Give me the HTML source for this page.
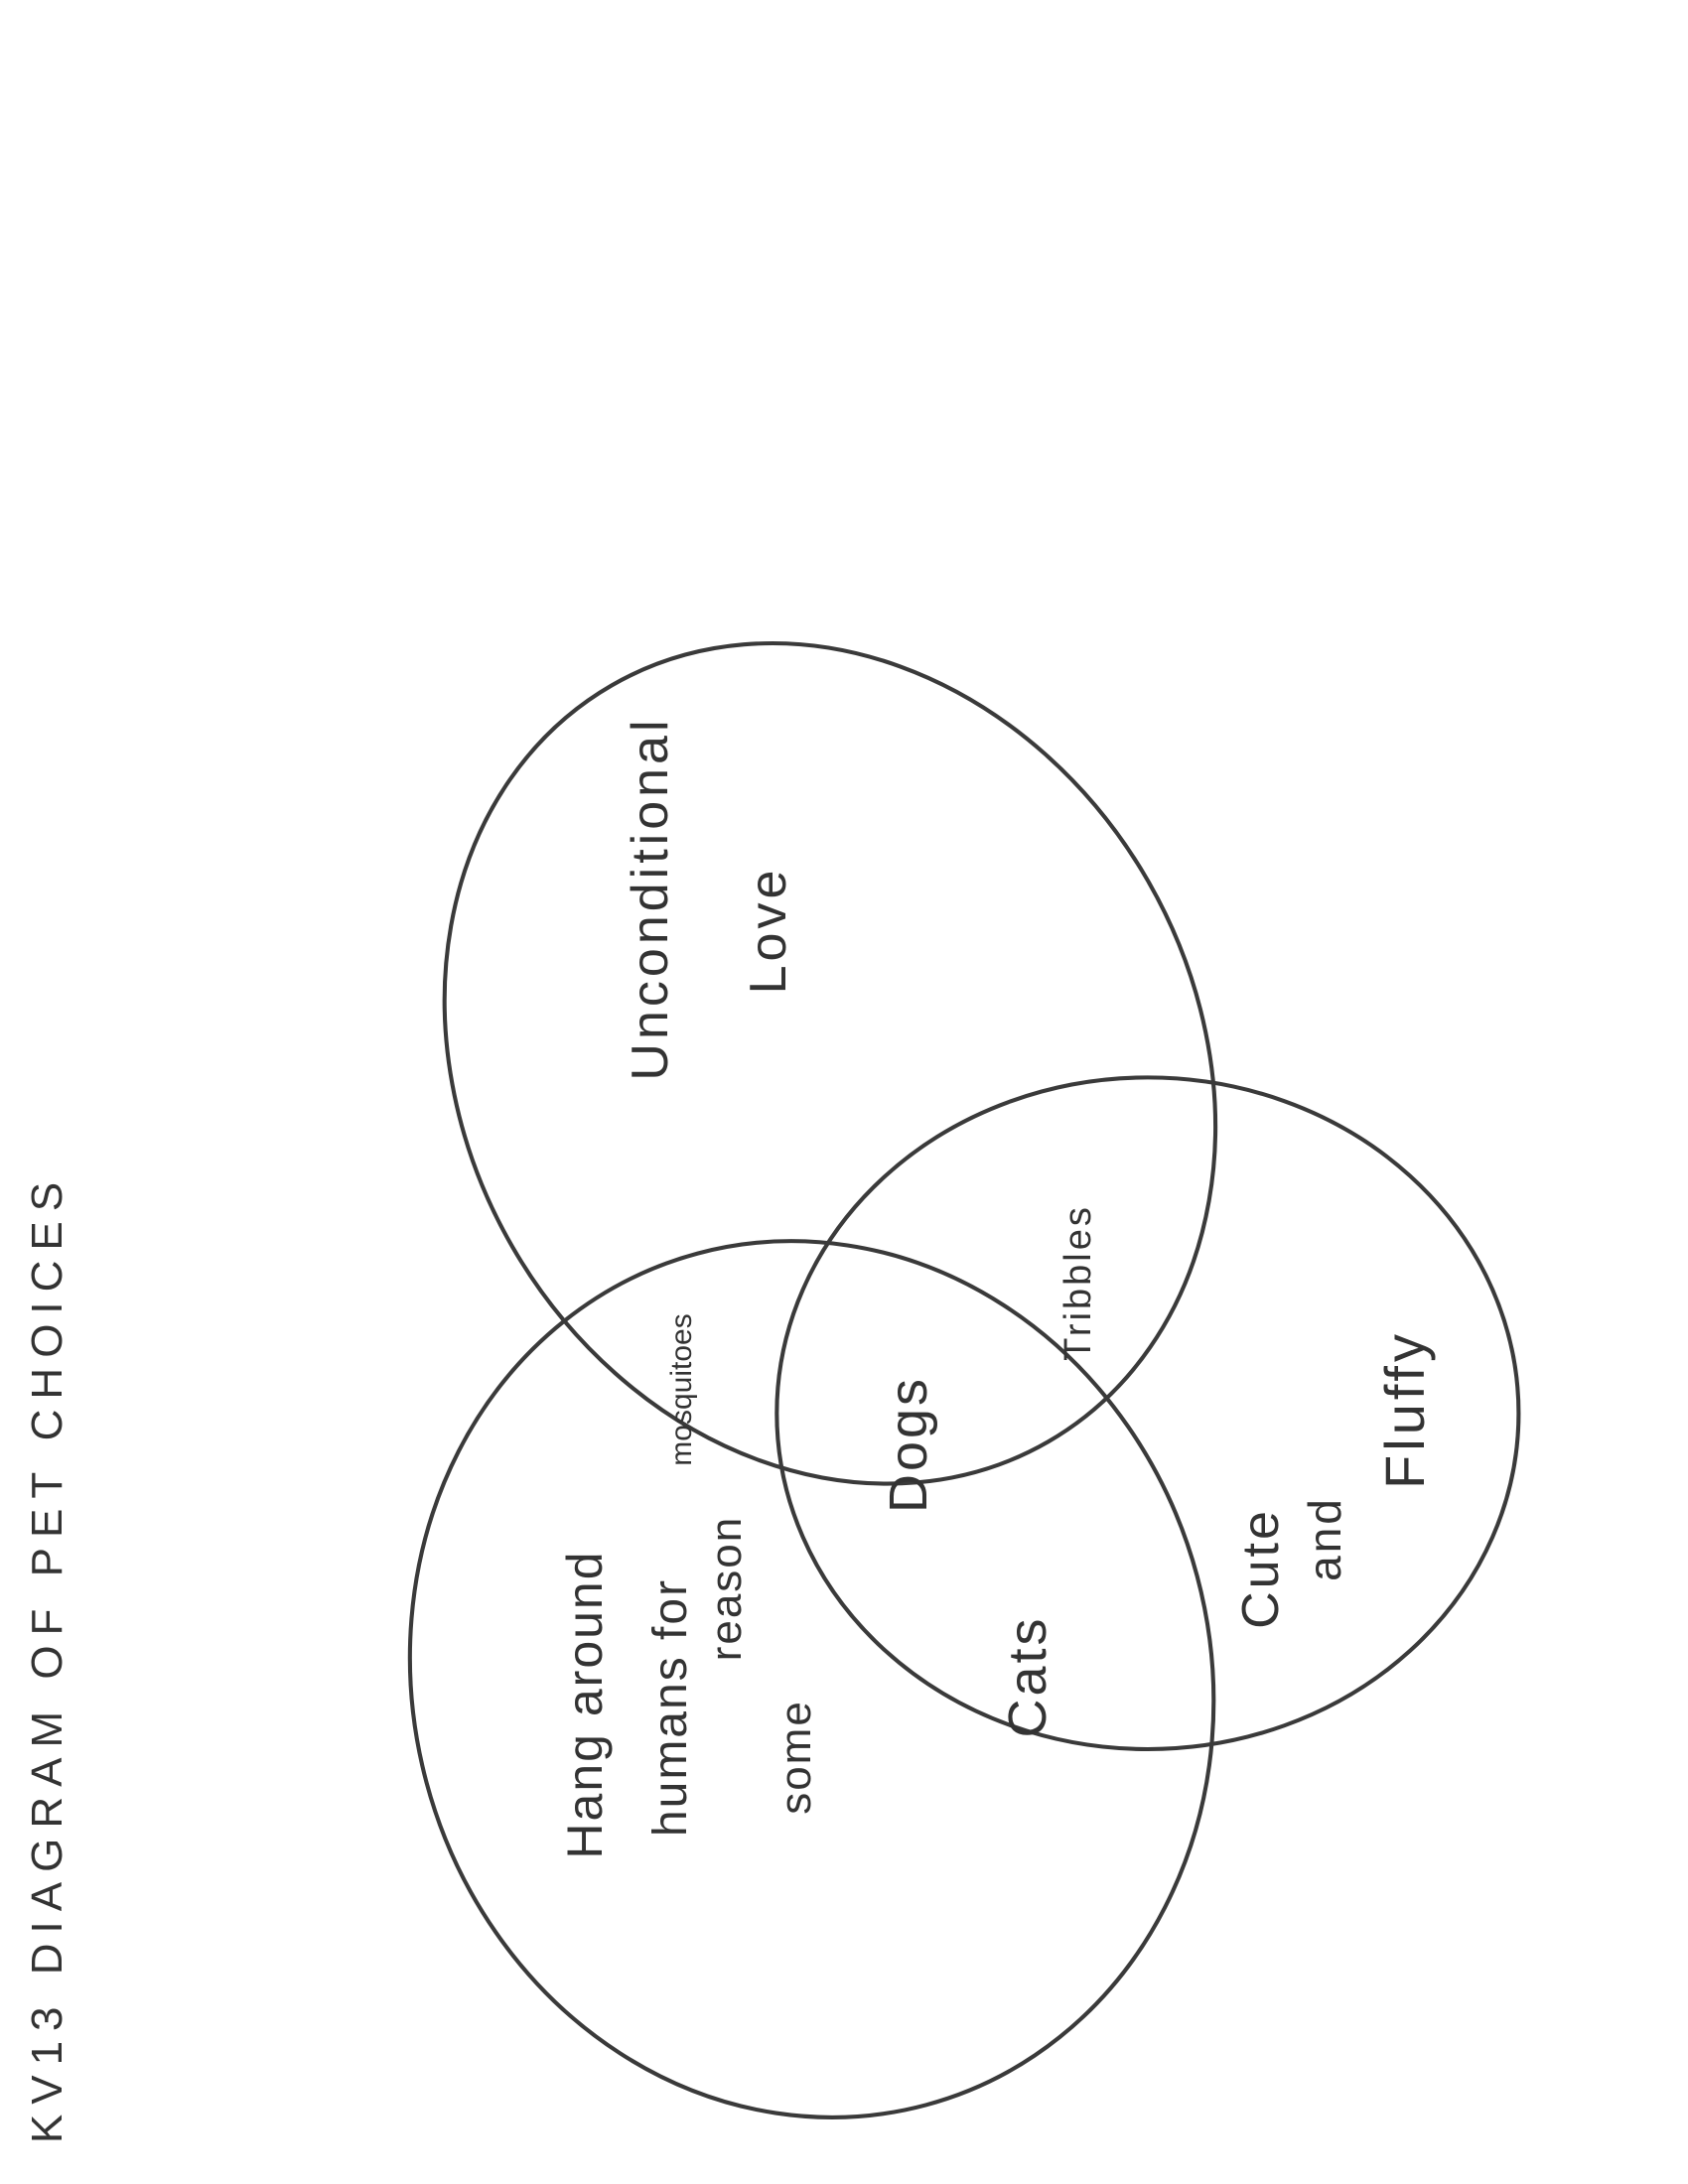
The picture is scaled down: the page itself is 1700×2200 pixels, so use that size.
<!DOCTYPE html>
<html><head><meta charset="utf-8"><style>
html,body{margin:0;padding:0;background:#fff;}
svg{display:block;}
text{font-family:"Liberation Sans",sans-serif;fill:#333;}
</style></head><body>
<svg width="1700" height="2200" viewBox="0 0 1700 2200" xmlns="http://www.w3.org/2000/svg">
<g fill="none" stroke="#3a3a3a" stroke-width="2.9" transform="scale(1.4096)">
<ellipse cx="593" cy="760" rx="262" ry="312" transform="rotate(-30 593 760)"/>
<ellipse cx="580" cy="1200" rx="285" ry="315" transform="rotate(-15 580 1200)"/>
<ellipse cx="820" cy="1010" rx="265" ry="240"/>
</g>
<text x="62" y="1670" font-size="44" letter-spacing="10" text-anchor="middle" transform="rotate(-90 62 1670)">KV13  DIAGRAM OF PET CHOICES</text>
<text x="672" y="905" font-size="52" letter-spacing="4" text-anchor="middle" transform="rotate(-90 672 905)">Unconditional</text>
<text x="791" y="937" font-size="52" letter-spacing="4" text-anchor="middle" transform="rotate(-90 791 937)">Love</text>
<text x="696" y="1400" font-size="30" text-anchor="middle" transform="rotate(-90 696 1400)">mosquitoes</text>
<text x="1098" y="1292" font-size="38" letter-spacing="3" text-anchor="middle" transform="rotate(-90 1098 1292)">Tribbles</text>
<text x="933" y="1455" font-size="54" letter-spacing="3" text-anchor="middle" transform="rotate(-90 933 1455)">Dogs</text>
<text x="1053" y="1689" font-size="54" letter-spacing="3" text-anchor="middle" transform="rotate(-90 1053 1689)">Cats</text>
<text x="1287" y="1580" font-size="52" letter-spacing="3" text-anchor="middle" transform="rotate(-90 1287 1580)">Cute</text>
<text x="1350" y="1550" font-size="46" letter-spacing="3" text-anchor="middle" transform="rotate(-90 1350 1550)">and</text>
<text x="1434" y="1420" font-size="56" letter-spacing="4" text-anchor="middle" transform="rotate(-90 1434 1420)">Fluffy</text>
<text x="606" y="1717" font-size="50" letter-spacing="2" text-anchor="middle" transform="rotate(-90 606 1717)">Hang around</text>
<text x="691" y="1720" font-size="48" letter-spacing="2" text-anchor="middle" transform="rotate(-90 691 1720)">humans for</text>
<text x="746" y="1600" font-size="44" letter-spacing="2" text-anchor="middle" transform="rotate(-90 746 1600)">reason</text>
<text x="816" y="1770" font-size="44" letter-spacing="2" text-anchor="middle" transform="rotate(-90 816 1770)">some</text>
</svg>
</body></html>
